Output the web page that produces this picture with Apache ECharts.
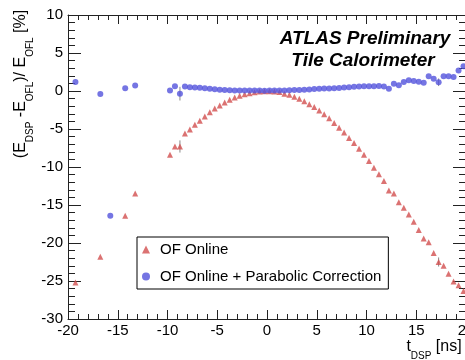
<!DOCTYPE html>
<html>
<head>
<meta charset="utf-8">
<script src="https://cdn.jsdelivr.net/npm/echarts@6/dist/echarts.min.js"></script>
<style>
  html, body { margin: 0; padding: 0; background: #fff; }
  #chart { width: 465px; height: 360px; }
</style>
</head>
<body>
<div id="chart"></div>
<script>
// 数据
var xTicks = [-20, -15, -10, -5, 0, 5, 10, 15, 20];
var yTicks = [-30, -25, -20, -15, -10, -5, 0, 5, 10];

// OF Online (red triangles)
var tOnline = [-19.25, -16.75, -14.25, -13.25,
  -9.75, -9.25, -8.75, -8.25, -7.75, -7.25, -6.75, -6.25, -5.75, -5.25,
  -4.75, -4.25, -3.75, -3.25, -2.75, -2.25, -1.75, -1.25, -0.75, -0.25,
  0.25, 0.75, 1.25, 1.75, 2.25, 2.75, 3.25, 3.75, 4.25, 4.75,
  5.25, 5.75, 6.25, 6.75, 7.25, 7.75, 8.25, 8.75, 9.25, 9.75,
  10.25, 10.75, 11.25, 11.75, 12.25, 12.75, 13.25, 13.75, 14.25, 14.75,
  15.25, 15.75, 16.25, 16.75, 17.25, 17.75, 18.25, 18.75, 19.25, 19.75];
var online = [-25.2, -21.8, -16.4, -13.5,
  -8.4, -7.3, -7.3, -5.6, -5.05, -4.45, -3.9, -3.35, -2.8, -2.3,
  -1.9, -1.5, -1.15, -0.85, -0.62, -0.42, -0.28, -0.16, -0.08, -0.03,
  -0.02, -0.05, -0.12, -0.35, -0.5, -0.77, -1.03, -1.35, -1.74, -2.1,
  -2.58, -3.07, -3.6, -4.2, -4.83, -5.45, -6.2, -6.85, -7.6, -8.4,
  -9.2, -10.1, -10.97, -11.85, -13.1, -13.5, -14.65, -15.35, -16.25, -17.2,
  -18.3, -19.4, -19.9, -21.3, -22.5, -23.0, -24.05, -25.05, -25.55, -26.3];

// OF Online + Parabolic Correction (blue circles)
var tCorr = [-19.25, -16.75, -15.75, -14.25, -13.25,
  -9.75, -9.25, -8.75, -8.25, -7.75, -7.25, -6.75, -6.25, -5.75, -5.25,
  -4.75, -4.25, -3.75, -3.25, -2.75, -2.25, -1.75, -1.25, -0.75, -0.25,
  0.25, 0.75, 1.25, 1.75, 2.25, 2.75, 3.25, 3.75, 4.25, 4.75,
  5.25, 5.75, 6.25, 6.75, 7.25, 7.75, 8.25, 8.75, 9.25, 9.75,
  10.25, 10.75, 11.25, 11.75, 12.25, 12.75, 13.25, 13.75, 14.25, 14.75,
  15.25, 15.75, 16.25, 16.75, 17.25, 17.75, 18.25, 18.75, 19.25, 19.75];
var corrected = [1.2, -0.4, -16.4, 0.37, 0.73,
  0.07, 0.62, -0.35, 0.6, 0.5, 0.45, 0.42, 0.37, 0.28, 0.24,
  0.18, 0.12, 0.1, 0.08, 0.06, 0.05, 0.05, 0.05, 0.05, 0.04,
  0.05, 0.05, 0.06, 0.08, 0.1, 0.12, 0.14, 0.16, 0.2, 0.25,
  0.3, 0.32, 0.33, 0.36, 0.38, 0.45, 0.5, 0.55, 0.6, 0.62,
  0.62, 0.62, 0.65, 0.6, 0.3, 0.95, 0.75, 1.17, 1.4, 1.32,
  1.22, 1.1, 1.95, 1.6, 1.15, 1.93, 1.93, 1.85, 2.7, 3.25];

// a few visible error bars: t, value, error
var errT = [-8.75, -8.75, 17.25, 17.25];
var errVal = [-7.3, -0.35, -22.5, 1.15];
var errSize = [0.8, 0.9, 0.6, 0.5];

var FONT = '"Liberation Sans", Arial, Helvetica, sans-serif';
var AXIS = '#222';

function zip(a, b) { return a.map(function (v, i) { return [v, b[i]]; }); }

var myChart = echarts.init(document.getElementById('chart'));

function xAx(pos) {
  return {
    type: 'value', position: pos, min: xTicks[0], max: xTicks[xTicks.length - 1], interval: 5,
    axisLine: { onZero: false, lineStyle: { color: AXIS, width: 1 } },
    axisTick: { inside: true, length: 9, lineStyle: { color: AXIS } },
    minorTick: { show: true, splitNumber: 5, length: 5, lineStyle: { color: AXIS } },
    splitLine: { show: false },
    axisLabel: { show: pos === 'bottom', fontSize: 15, color: '#000', margin: 4, fontFamily: FONT }
  };
}
function yAx(pos) {
  return {
    type: 'value', position: pos, min: yTicks[0], max: yTicks[yTicks.length - 1], interval: 5,
    axisLine: { onZero: false, lineStyle: { color: AXIS, width: 1 } },
    axisTick: { inside: true, length: 13, lineStyle: { color: AXIS } },
    minorTick: { show: true, splitNumber: 5, length: 7, lineStyle: { color: AXIS } },
    splitLine: { show: false },
    axisLabel: { show: pos === 'left', fontSize: 15, color: '#000', margin: 5, fontFamily: FONT }
  };
}

myChart.setOption({
  backgroundColor: '#fff',
  animation: false,
  grid: { left: 68, top: 15, width: 398, height: 304, containLabel: false, outerBoundsMode: 'none' },
  xAxis: [xAx('bottom'), xAx('top')],
  yAxis: [yAx('left'), yAx('right')],
  legend: {
    left: 137, top: 237, orient: 'vertical',
    padding: [5, 7, 5, 5], itemGap: 12, itemWidth: 8, itemHeight: 8,
    borderColor: '#000', borderWidth: 1, backgroundColor: '#fff',
    textStyle: { fontSize: 15, color: '#000', fontFamily: FONT, padding: [0, 0, 0, 5] },
    data: ['OF Online', 'OF Online + Parabolic Correction']
  },
  graphic: [
    { type: 'text', x: 365, y: 39, style: { text: 'ATLAS Preliminary', fontSize: 19, fontWeight: 'bold', fontStyle: 'italic', fontFamily: FONT, fill: '#000', align: 'center', verticalAlign: 'middle' } },
    { type: 'text', x: 363, y: 61, style: { text: 'Tile Calorimeter', fontSize: 19, fontWeight: 'bold', fontStyle: 'italic', fontFamily: FONT, fill: '#000', align: 'center', verticalAlign: 'middle' } },
    { type: 'text', x: 21, y: 84, rotation: Math.PI / 2,
      style: { text: '(E{s|DSP} -E{s|OFL})/ E{s|OFL} [%]', fontSize: 16, fontFamily: FONT, fill: '#000', lineHeight: 28, align: 'center', verticalAlign: 'middle',
        rich: { s: { fontSize: 10, fontFamily: FONT, fill: '#000', verticalAlign: 'bottom' } } } },
    { type: 'text', x: 434, y: 347,
      style: { text: 't{s|DSP} [ns]', fontSize: 16, fontFamily: FONT, fill: '#000', lineHeight: 28, align: 'center', verticalAlign: 'middle',
        rich: { s: { fontSize: 10, fontFamily: FONT, fill: '#000', verticalAlign: 'bottom' } } } }
  ],
  series: [
    {
      type: 'custom', name: 'err', silent: true,
      data: errT.map(function (t, i) { return [t, errVal[i] - errSize[i], errVal[i] + errSize[i]]; }),
      renderItem: function (params, api) {
        var a = api.coord([api.value(0), api.value(1)]);
        var b = api.coord([api.value(0), api.value(2)]);
        return { type: 'line', shape: { x1: a[0], y1: a[1], x2: b[0], y2: b[1] }, style: { stroke: '#888', lineWidth: 1 } };
      }
    },
    {
      name: 'OF Online', type: 'scatter', symbol: 'triangle', symbolSize: 6,
      itemStyle: { color: '#d24f4f' },
      data: zip(tOnline, online)
    },
    {
      name: 'OF Online + Parabolic Correction', type: 'scatter', symbol: 'circle', symbolSize: 6,
      itemStyle: { color: '#5252dc' },
      data: zip(tCorr, corrected)
    }
  ]
});
</script>
</body>
</html>
